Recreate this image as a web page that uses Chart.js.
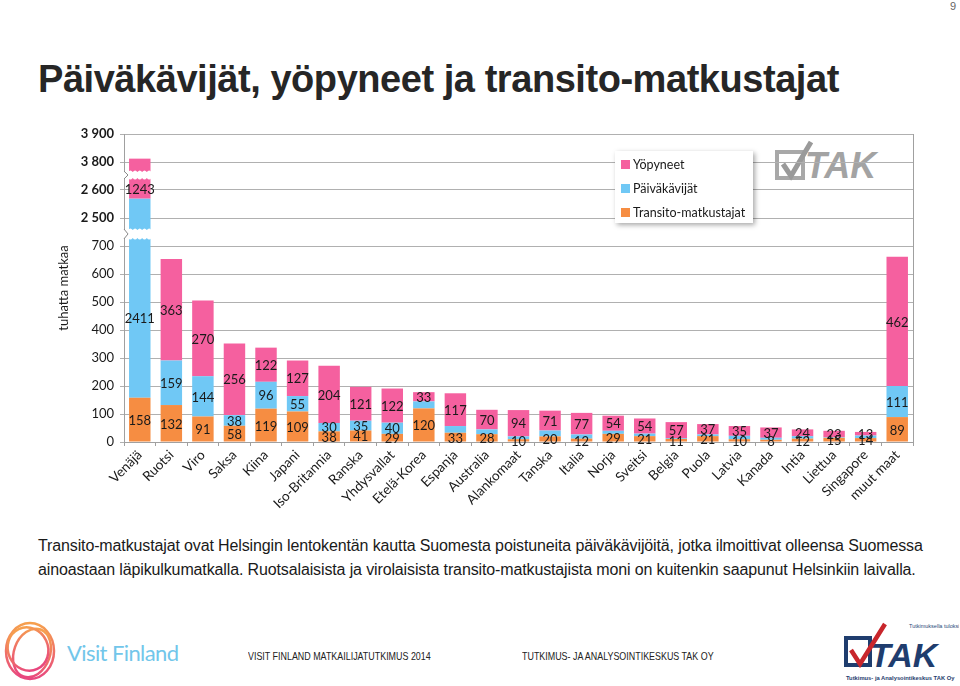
<!DOCTYPE html>
<html>
<head>
<meta charset="utf-8">
<script src="https://cdn.jsdelivr.net/npm/chart.js@4.4.1/dist/chart.umd.min.js"></script>
<style>
  html, body { margin: 0; padding: 0; background: #fff; }
  body { width: 960px; height: 686px; position: relative; overflow: hidden; font-family: "Liberation Sans", Arial, sans-serif; }
  #page-num { position: absolute; right: 4px; top: 0px; font-size: 11px; color: #666; }
  #title { position: absolute; left: 38px; top: 58px; font-size: 38px; font-weight: bold; color: #262626; letter-spacing: -0.45px; white-space: nowrap; }
  #chart-wrap { position: absolute; left: 40px; top: 120px; width: 880px; height: 400px; }
  #note { position: absolute; left: 38px; top: 534px; font-size: 16px; line-height: 24px; color: #1a1a1a; white-space: nowrap; letter-spacing: -0.13px; }
  .foot { position: absolute; top: 650px; font-size: 11px; color: #222; white-space: nowrap; transform-origin: left top; transform: scaleX(0.81); }
  #vf-text { position: absolute; left: 67px; top: 639px; font-family: Lato, sans-serif; font-size: 22px; color: #72c6ea; letter-spacing: -0.6px; }
  #tak-in { position: absolute; left: 775px; top: 140px; }
  #tak-foot { position: absolute; left: 843px; top: 620px; }
</style>
</head>
<body>
<div id="page-num">9</div>
<div id="title">Päiväkävijät, yöpyneet ja transito-matkustajat</div>

<div id="tak-in">
  <svg width="112" height="44" viewBox="0 0 112 44">
    <rect x="2" y="12" width="26" height="26" fill="none" stroke="#a8a8a8" stroke-width="4"/>
    <path d="M8 24 L16 36 L36 2" fill="none" stroke="#9a9a9a" stroke-width="5"/>
    <text x="30" y="38" font-family="Liberation Sans" font-weight="bold" font-style="italic" font-size="36" fill="#a3a3a3">TAK</text>
  </svg>
</div>

<div id="chart-wrap"><canvas id="chart"></canvas></div>

<div id="note">Transito-matkustajat ovat Helsingin lentokentän kautta Suomesta poistuneita päiväkävijöitä, jotka ilmoittivat olleensa Suomessa<br>ainoastaan läpikulkumatkalla. Ruotsalaisista ja virolaisista transito-matkustajista moni on kuitenkin saapunut Helsinkiin laivalla.</div>

<svg style="position:absolute;left:2px;top:615px" width="60" height="70" viewBox="0 0 60 70">
  <defs>
    <linearGradient id="vf" x1="0" y1="0" x2="0" y2="1">
      <stop offset="0" stop-color="#f6a04d"/>
      <stop offset="1" stop-color="#e8467f"/>
    </linearGradient>
  </defs>
  <g fill="none" stroke="url(#vf)" stroke-width="2.5">
    <ellipse cx="28" cy="36" rx="24" ry="28"/>
    <ellipse cx="30" cy="38" rx="18" ry="25" transform="rotate(20 30 38)"/>
    <ellipse cx="26" cy="34" rx="20" ry="22" transform="rotate(-25 26 34)"/>
  </g>
</svg>
<div id="vf-text">Visit Finland</div>
<div class="foot" style="left:248px">VISIT FINLAND MATKAILIJATUTKIMUS 2014</div>
<div class="foot" style="left:522px">TUTKIMUS- JA ANALYSOINTIKESKUS TAK OY</div>

<div id="tak-foot">
  <svg width="116" height="64" viewBox="0 0 116 64">
    <text x="66" y="8" font-family="Liberation Sans" font-size="5.5" fill="#2a4a7a">Tutkimuksella tuloksiin</text>
    <rect x="3" y="18" width="24" height="27" fill="none" stroke="#1f3d6e" stroke-width="4"/>
    <text x="27" y="47" font-family="Liberation Sans" font-weight="bold" font-style="italic" font-size="34" fill="#1f3d6e">TAK</text>
    <path d="M8 30 L17 44 L42 4" fill="none" stroke="#c8262c" stroke-width="4.5"/>
    <text x="3" y="60" font-family="Liberation Sans" font-weight="bold" font-size="5.8" fill="#1f3d6e">Tutkimus- ja Analysointikeskus TAK Oy</text>
  </svg>
</div>

<script>
// categories and values (tuhatta matkaa)
const countries = ['Venäjä', 'Ruotsi', 'Viro', 'Saksa', 'Kiina', 'Japani', 'Iso-Britannia', 'Ranska',
    'Yhdysvallat', 'Etelä-Korea', 'Espanja', 'Australia', 'Alankomaat', 'Tanska', 'Italia', 'Norja',
    'Sveitsi', 'Belgia', 'Puola', 'Latvia', 'Kanada', 'Intia', 'Liettua', 'Singapore', 'muut maat'];
const transit   = [158, 132, 91, 58, 119, 109, 38, 41, 29, 120, 33, 28, 10, 20, 12, 29, 21, 11, 21, 10, 8, 12, 15, 14, 89];
const dayVisits = [2411, 159, 144, 38, 96, 55, 30, 35, 40, 25, 24, 17, 10, 21, 15, 11, 9, 3, 6, 12, 7, 9, 2, 9, 111];
const overnight = [1243, 363, 270, 256, 122, 127, 204, 121, 122, 33, 117, 70, 94, 71, 77, 54, 54, 57, 37, 35, 37, 24, 23, 13, 462];

const yTickLabels = ['0', '100', '200', '300', '400', '500', '600', '700', '2 500', '2 600', '3 800', '3 900'];

// the small day-visitor segments carry no label in the original
const labelledDay = dayVisits.map((v, i) => i <= 8 || i === 24);

const colors = { transit: '#f68d42', day: '#70c8f5', overnight: '#f5609f' };

// broken axis: 0-700 linear, 700-2500 squeezed into one step, 2500-2600, 2600-3800 squeezed, 3800-3900
function axisPos(v) {
    if (v <= 700) return v;
    if (v < 2500) return 700 + (v - 700) / 18;
    if (v <= 2600) return 800 + (v - 2500);
    if (v < 3800) return 900 + (v - 2600) / 12;
    return 1000 + (v - 3800);
}

// where the wavy breaks are cut through the tall bar (axis units)
const breakBands = [[729, 757], [943, 964]];

function floating(lower, values) {
    return values.map((v, i) => {
        const start = lower.reduce((s, arr) => s + arr[i], 0);
        return [axisPos(start), axisPos(start + v)];
    });
}

const datasets = [
    { label: 'Transito-matkustajat', raw: transit, data: floating([], transit), backgroundColor: colors.transit },
    { label: 'Päiväkävijät', raw: dayVisits, data: floating([transit], dayVisits), backgroundColor: colors.day },
    { label: 'Yöpyneet', raw: overnight, data: floating([transit, dayVisits], overnight), backgroundColor: colors.overnight }
];

// ── Plugins ──────────────────────────────────────────────────────────────────

const valueLabels = {
    id: 'valueLabels',
    afterDatasetsDraw(chart) {
        const ctx = chart.ctx, y = chart.scales.y;
        ctx.save();
        ctx.font = '13px Lato, "Open Sans", sans-serif';
        ctx.fillStyle = '#1a1a1a';
        ctx.textAlign = 'center';
        ctx.textBaseline = 'middle';
        chart.data.datasets.forEach((ds, di) => {
            chart.getDatasetMeta(di).data.forEach((bar, i) => {
                if (di === 1 && !labelledDay[i]) return;
                let [s, e] = ds.data[i];
                // centre on the part below a break, as the original does
                const br = breakBands.find(([a]) => a > s && a < e);
                if (br) e = br[0];
                ctx.fillText(String(ds.raw[i]), bar.x, y.getPixelForValue((s + e) / 2) + 1);
            });
        });
        ctx.restore();
    }
};

function wavyBand(ctx, x0, x1, yTop, yBot) {
    const n = 5, w = (x1 - x0) / n;
    ctx.beginPath();
    ctx.moveTo(x0, yTop);
    for (let k = 0; k < n; k++) ctx.quadraticCurveTo(x0 + w * (k + 0.5), yTop - 3, x0 + w * (k + 1), yTop);
    ctx.lineTo(x1, yBot);
    for (let k = n - 1; k >= 0; k--) ctx.quadraticCurveTo(x0 + w * (k + 0.5), yBot + 3, x0 + w * k, yBot);
    ctx.closePath();
    ctx.fill();
}

const axisBreaks = {
    id: 'axisBreaks',
    afterDatasetsDraw(chart) {
        const ctx = chart.ctx, y = chart.scales.y, area = chart.chartArea;
        const bar = chart.getDatasetMeta(1).data[0];
        const half = bar.width / 2;
        ctx.save();
        breakBands.forEach(([a, b]) => {
            const yTop = y.getPixelForValue(b), yBot = y.getPixelForValue(a);
            ctx.fillStyle = '#fff';
            wavyBand(ctx, bar.x - half - 1, bar.x + half + 1, yTop, yBot);
            // zigzag on the axis line
            ctx.fillRect(area.left - 1, yTop, 3, yBot - yTop);
            ctx.strokeStyle = '#888';
            ctx.lineWidth = 1;
            ctx.beginPath();
            ctx.moveTo(area.left, yTop - 1);
            ctx.lineTo(area.left + 4, (yTop + yBot) / 2);
            ctx.lineTo(area.left, yBot + 1);
            ctx.stroke();
        });
        ctx.restore();
    }
};

const frameAndLegend = {
    id: 'frameAndLegend',
    afterDraw(chart) {
        const ctx = chart.ctx, area = chart.chartArea;
        ctx.save();
        // right border
        ctx.strokeStyle = '#a0a0a0';
        ctx.lineWidth = 1;
        ctx.beginPath();
        ctx.moveTo(Math.round(area.right) + 0.5, area.top);
        ctx.lineTo(Math.round(area.right) + 0.5, area.bottom);
        ctx.stroke();

        // legend box
        const bx = area.left + 491, by = area.top + 17, bw = 138, bh = 72;
        ctx.shadowColor = 'rgba(0,0,0,0.35)';
        ctx.shadowBlur = 5;
        ctx.shadowOffsetX = 2;
        ctx.shadowOffsetY = 2;
        ctx.fillStyle = '#fff';
        ctx.fillRect(bx, by, bw, bh);
        ctx.shadowColor = 'transparent';

        ctx.font = '12.5px Lato, "Open Sans", sans-serif';
        ctx.textBaseline = 'middle';
        const items = chart.data.datasets.slice().reverse();
        items.forEach((ds, k) => {
            const cy = by + 13 + k * 24;
            ctx.fillStyle = ds.backgroundColor;
            ctx.fillRect(bx + 6, cy - 4, 9, 9);
            ctx.fillStyle = '#1a1a1a';
            ctx.fillText(ds.label, bx + 18, cy + 1);
        });
        ctx.restore();
    }
};

// ── Chart ────────────────────────────────────────────────────────────────────

new Chart(document.getElementById('chart'), {
    type: 'bar',
    data: { labels: countries, datasets: datasets },
    options: {
        responsive: true,
        maintainAspectRatio: false,
        animation: false,
        layout: { padding: { top: 14, right: 7, left: 0, bottom: 0 } },
        datasets: { bar: { barPercentage: 0.68, categoryPercentage: 1.0 } },
        plugins: { legend: { display: false }, tooltip: { enabled: false } },
        scales: {
            x: {
                stacked: true,
                grid: { drawOnChartArea: false, offset: true, tickLength: 4, color: '#a0a0a0' },
                border: { color: '#a0a0a0' },
                ticks: {
                    maxRotation: 45, minRotation: 45, autoSkip: false, padding: 1,
                    color: '#1a1a1a',
                    font: { family: 'Lato, "Open Sans", sans-serif', size: 13.5 }
                },
                afterFit: s => { s.height = 78; }
            },
            y: {
                min: 0, max: 1100,
                grid: { color: '#b0b0b0', drawTicks: true, tickLength: 4 },
                border: { color: '#a0a0a0' },
                ticks: {
                    stepSize: 100,
                    padding: 6,
                    color: '#1a1a1a',
                    callback: (v, i) => yTickLabels[i],
                    font: ctx => ({
                        family: 'Lato, "Open Sans", sans-serif',
                        size: 13,
                        weight: ctx.index >= 8 ? 'bold' : 'normal'
                    })
                },
                title: {
                    display: true, text: 'tuhatta matkaa', color: '#1a1a1a',
                    font: { family: 'Lato, "Open Sans", sans-serif', size: 13 },
                    padding: { top: 16, bottom: 0 }
                },
                afterFit: s => { s.width = 84; }
            }
        }
    },
    plugins: [valueLabels, axisBreaks, frameAndLegend]
});
</script>
</body>
</html>
